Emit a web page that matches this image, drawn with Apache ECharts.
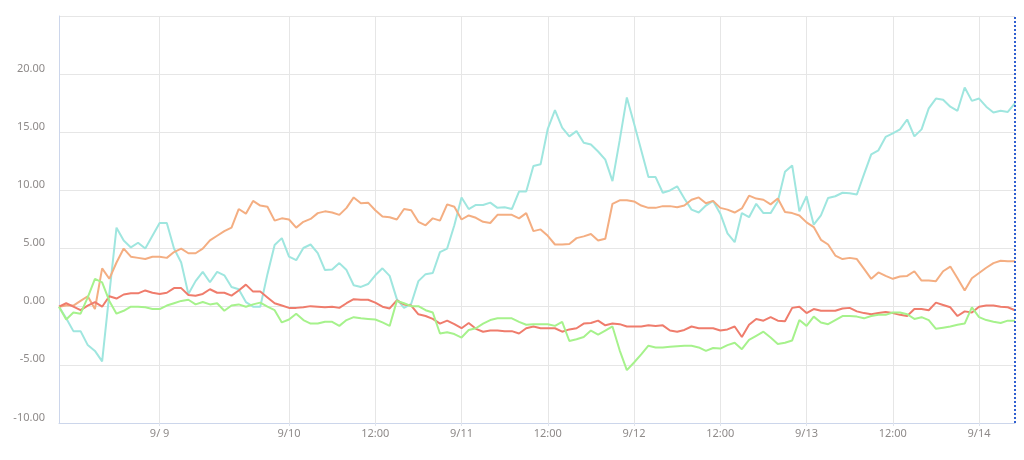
<!DOCTYPE html>
<html>
<head>
<meta charset="utf-8">
<script src="https://cdn.jsdelivr.net/npm/echarts@6/dist/echarts.min.js"></script>
<style>
html,body{margin:0;padding:0;background:#fff;}
#chart{width:1024px;height:460px;}
</style>
</head>
<body>
<div id="chart"></div>
<script>
// hourly segments: [month, day, firstHour, lastHour]
const timeSegments = [[9,8,10,23],[9,9,0,8],[9,9,15,23],[9,10,0,23],[9,11,0,23],[9,12,0,23],[9,13,0,23],[9,14,0,5]];
const tickLabels = ['9/ 9 00:00','9/10 00:00','9/10 12:00','9/11 00:00','9/11 12:00','9/12 00:00','9/12 12:00','9/13 00:00','9/13 12:00','9/14 00:00'];

const seriesCyan = [
  0, -1.0, -2.1, -2.1, -3.3, -3.8, -4.7, 1.1, 6.8, 5.7,
  5.1, 5.5, 5.0, 6.1, 7.2, 7.2, 5.0, 3.8, 1.1, 2.2,
  3.0, 2.1, 3.0, 2.7, 1.7, 1.5, 0.4, 0.0, 0.0, 2.8,
  5.3, 5.9, 4.3, 4.0, 5.05, 5.35, 4.6, 3.15, 3.2, 3.75,
  3.15, 1.85, 1.7, 1.95, 2.7, 3.3, 2.65, 0.65, -0.1, 0.25,
  2.2, 2.8, 2.9, 4.7, 5.0, 7.0, 9.4, 8.4, 8.75, 8.75,
  8.95, 8.5, 8.55, 8.4, 9.9, 9.9, 12.1, 12.25, 15.3, 16.9,
  15.4, 14.65, 15.1, 14.1, 13.95, 13.35, 12.65, 10.8, 14.3, 18.0,
  15.75, 13.45, 11.15, 11.15, 9.8, 10.0, 10.35, 9.3, 8.35, 8.1,
  8.7, 9.1, 8.0, 6.3, 5.55, 8.05, 7.7, 8.85, 8.05, 8.05,
  9.05, 11.6, 12.15, 8.2, 9.5, 7.05, 7.85, 9.35, 9.5, 9.8,
  9.75, 9.65, 11.4, 13.1, 13.45, 14.6, 14.9, 15.25, 16.1, 14.65,
  15.25, 17.05, 17.9, 17.8, 17.2, 16.85, 18.85, 17.7, 17.9, 17.2,
  16.7, 16.85, 16.75, 17.5
];
const seriesOrange = [
  0, 0.1, 0.1, 0.5, 0.9, -0.2, 3.3, 2.4, 3.8, 5.0,
  4.3, 4.2, 4.1, 4.3, 4.3, 4.2, 4.7, 5.0, 4.6, 4.6,
  5.0, 5.7, 6.1, 6.5, 6.8, 8.4, 8.0, 9.1, 8.7, 8.6,
  7.4, 7.6, 7.5, 6.8, 7.3, 7.55, 8.05, 8.2, 8.1, 7.9,
  8.5, 9.4, 8.9, 8.95, 8.3, 7.75, 7.7, 7.5, 8.4, 8.3,
  7.3, 7.0, 7.6, 7.4, 8.8, 8.6, 7.5, 7.85, 7.65, 7.3,
  7.2, 7.9, 7.9, 7.9, 7.6, 8.05, 6.5, 6.65, 6.1, 5.35,
  5.35, 5.4, 5.9, 6.05, 6.25, 5.7, 5.85, 8.85, 9.15, 9.15,
  9.05, 8.7, 8.5, 8.5, 8.65, 8.65, 8.55, 8.7, 9.2, 9.4,
  8.9, 9.1, 8.5, 8.35, 8.1, 8.45, 9.55, 9.3, 9.2, 8.8,
  9.3, 8.15, 8.05, 7.85, 7.25, 6.85, 5.75, 5.35, 4.4, 4.1,
  4.2, 4.1, 3.25, 2.4, 2.95, 2.65, 2.4, 2.6, 2.65, 3.05,
  2.25, 2.25, 2.2, 3.05, 3.45, 2.45, 1.4, 2.45, 2.9, 3.35,
  3.75, 3.95, 3.9, 3.9
];
const seriesRed = [
  0, 0.3, 0, -0.3, 0.1, 0.4, 0, 0.9, 0.7, 1.05,
  1.15, 1.15, 1.4, 1.2, 1.1, 1.2, 1.6, 1.6, 1.0, 0.95,
  1.1, 1.5, 1.2, 1.2, 0.95, 1.4, 1.9, 1.3, 1.3, 0.8,
  0.3, 0.1, -0.1, -0.1, -0.05, 0.05, 0, -0.05, 0, -0.1,
  0.3, 0.65, 0.6, 0.6, 0.35, 0, -0.15, 0.55, 0.2, 0.1,
  -0.65, -0.8, -1.05, -1.45, -1.2, -1.5, -1.85, -1.4, -1.9, -2.15,
  -2.05, -2.05, -2.1, -2.1, -2.3, -1.85, -1.7, -1.85, -1.85, -1.85,
  -2.15, -1.95, -1.85, -1.45, -1.4, -1.2, -1.6, -1.45, -1.5, -1.7,
  -1.7, -1.7, -1.6, -1.65, -1.6, -2.05, -2.15, -2.0, -1.7, -1.85,
  -1.85, -1.85, -2.05, -1.95, -1.7, -2.6, -1.55, -1.05, -1.2, -0.9,
  -1.2, -1.25, -0.1, 0, -0.55, -0.2, -0.35, -0.35, -0.35, -0.15,
  -0.1, -0.4, -0.55, -0.65, -0.55, -0.45, -0.55, -0.7, -0.8, -0.2,
  -0.2, -0.3, 0.35, 0.15, -0.05, -0.8, -0.4, -0.5, 0, 0.1,
  0.1, 0, -0.05, -0.3
];
const seriesGreen = [
  0, -1.1, -0.5, -0.6, 0.8, 2.4, 2.1, 0.5, -0.6, -0.35,
  0, 0, -0.05, -0.2, -0.2, 0.1, 0.3, 0.5, 0.6, 0.2,
  0.4, 0.2, 0.3, -0.35, 0.1, 0.2, 0, 0.2, 0.35, 0,
  -0.3, -1.35, -1.1, -0.6, -1.15, -1.45, -1.45, -1.3, -1.3, -1.65,
  -1.15, -0.9, -1.0, -1.05, -1.1, -1.35, -1.65, 0.5, 0.3, 0.05,
  0.05, -0.3, -0.5, -2.3, -2.2, -2.35, -2.65, -2.0, -1.85, -1.45,
  -1.15, -1.0, -1.0, -1.0, -1.3, -1.55, -1.5, -1.5, -1.5, -1.65,
  -1.3, -2.95, -2.8, -2.6, -2.05, -2.4, -2.05, -1.7, -3.75, -5.45,
  -4.8, -4.1, -3.35, -3.5, -3.5, -3.45, -3.4, -3.35, -3.35, -3.5,
  -3.8, -3.55, -3.6, -3.3, -3.1, -3.65, -2.85, -2.5, -2.15, -2.65,
  -3.2, -3.1, -2.9, -1.15, -1.65, -0.85, -1.35, -1.5, -1.15, -0.8,
  -0.8, -0.85, -1.0, -0.8, -0.7, -0.7, -0.5, -0.5, -0.65, -1.05,
  -0.9, -1.15, -1.9, -1.8, -1.7, -1.55, -1.45, -0.05, -0.9, -1.15,
  -1.3, -1.4, -1.2, -1.2
];

// build hourly category names from the segments
const categories = [];
timeSegments.forEach(([m, d, h0, h1]) => {
  const dayStr = m + '/' + (d < 10 ? ' ' + d : String(d));
  for (let h = h0; h <= h1; h++) {
    categories.push(dayStr + ' ' + (h < 10 ? '0' + h : h) + ':00');
  }
});

const isTick = (idx, val) => tickLabels.indexOf(val !== undefined ? val : categories[idx]) >= 0;

const textColor = '#8e8a89';
const font = 'Noto Sans';

const chart = echarts.init(document.getElementById('chart'), null, {renderer: 'canvas'});
function lineSeries(name, data, color, extra) {
  return Object.assign({
    name: name,
    type: 'line',
    data: data,
    showSymbol: false,
    symbol: 'none',
    smooth: false,
    lineStyle: {color: color, width: 2},
    itemStyle: {color: color}
  }, extra || {});
}
chart.setOption({
  animation: false,
  backgroundColor: '#ffffff',
  grid: {left: 59, right: 9, top: 16, bottom: 37, containLabel: false},
  xAxis: {
    type: 'category',
    boundaryGap: false,
    data: categories,
    axisLine: {show: true, onZero: false, lineStyle: {color: '#ccd6eb', width: 1}},
    axisTick: {show: true, interval: isTick, length: 3, lineStyle: {color: '#dfe4ee'}},
    axisLabel: {
      interval: isTick,
      color: textColor,
      fontFamily: font,
      fontSize: 11,
      margin: 5,
      formatter: v => v.endsWith('00:00') ? v.split(' ').slice(0, -1).join(' ') : v.split(' ').pop()
    },
    splitLine: {show: true, interval: isTick, lineStyle: {color: '#e6e6e6', width: 1}}
  },
  yAxis: {
    type: 'value',
    min: -10,
    max: 25,
    interval: 5,
    axisLine: {show: true, lineStyle: {color: '#ccd6eb', width: 1}},
    axisTick: {show: false},
    axisLabel: {
      showMaxLabel: false,
      color: textColor,
      fontFamily: font,
      fontSize: 11,
      margin: 14,
      verticalAlign: 'bottom',
      formatter: v => v.toFixed(2)
    },
    splitLine: {show: true, lineStyle: {color: '#e6e6e6', width: 1}}
  },
  series: [
    lineSeries('A', seriesCyan, '#9fe6df', {
      markLine: {
        silent: true,
        symbol: ['none', 'none'],
        label: {show: false},
        lineStyle: {color: '#2f5fd0', type: 'dotted', width: 2},
        data: [{xAxis: categories[categories.length - 1]}]
      }
    }),
    lineSeries('B', seriesOrange, '#f4ae82'),
    lineSeries('C', seriesRed, '#ef7c6c'),
    lineSeries('D', seriesGreen, '#a6f28c')
  ]
});
</script>
</body>
</html>
